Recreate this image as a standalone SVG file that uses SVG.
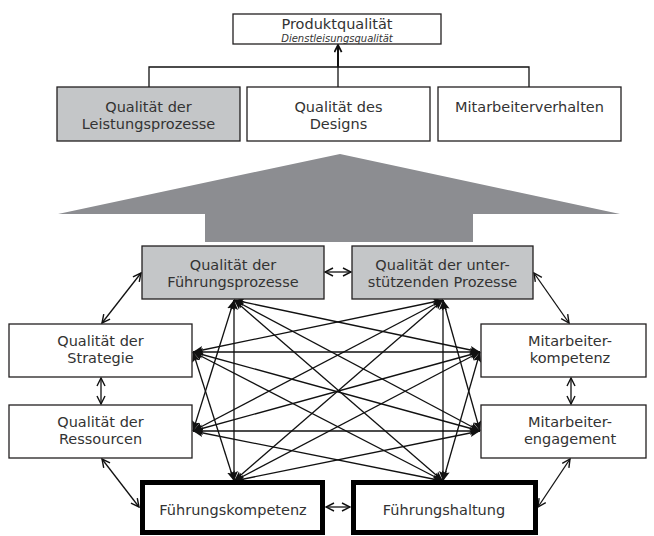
<svg xmlns="http://www.w3.org/2000/svg" width="654" height="536" viewBox="0 0 654 536">
<defs>
<style>
.box{fill:#fff;stroke:#231f20;stroke-width:1.3}
.gray{fill:#c4c6c8}
.thick{fill:#fff;stroke:#000;stroke-width:5}
.t{font-family:"DejaVu Sans",sans-serif;font-size:14.5px;fill:#333;text-anchor:middle}
.ti{font-family:"DejaVu Sans",sans-serif;font-style:italic;font-size:10px;fill:#333;text-anchor:middle}
.c{stroke:#111;stroke-width:1.3;fill:none}
.ring{marker-start:url(#ov);marker-end:url(#ov)}
.mesh{marker-start:url(#fv);marker-end:url(#fv)}
</style>
<marker id="ov" viewBox="0 0 10 10" refX="9" refY="5" markerWidth="10" markerHeight="10" markerUnits="userSpaceOnUse" orient="auto-start-reverse">
<path d="M1,1 L9,5 L1,9" fill="none" stroke="#111" stroke-width="1.4"/>
</marker>
<marker id="fv" viewBox="0 0 10 10" refX="10" refY="5" markerWidth="10" markerHeight="10" markerUnits="userSpaceOnUse" orient="auto-start-reverse">
<path d="M0,1 L10,5 L0,9 L2,5 z" fill="#111"/>
</marker>
<marker id="up" viewBox="0 0 10 10" refX="9" refY="5" markerWidth="9" markerHeight="9" markerUnits="userSpaceOnUse" orient="auto">
<path d="M1,1 L9,5 L1,9" fill="none" stroke="#111" stroke-width="2"/>
</marker>
</defs>
<rect width="654" height="536" fill="#fff"/>

<g id="bigarrow">
<polygon points="340,154 620,214 473,214 473,242 205,242 205,214 58,214" fill="#8c8d91"/>
</g>

<g id="connectors">
<path class="c" d="M149,87 V67 H529 V87"/>
<path d="M338,87 V67" class="c"/>
<path d="M338,67 V45" stroke="#111" stroke-width="2" fill="none" marker-end="url(#up)"/>
<line class="c ring" x1="325" y1="272" x2="351" y2="272"/>
<line class="c ring" x1="141" y1="273" x2="102" y2="323"/>
<line class="c ring" x1="101" y1="378" x2="101" y2="404"/>
<line class="c ring" x1="102" y1="459" x2="139" y2="507"/>
<line class="c ring" x1="326" y1="507" x2="350" y2="507"/>
<line class="c ring" x1="538" y1="507" x2="570" y2="459"/>
<line class="c ring" x1="571" y1="378" x2="571" y2="404"/>
<line class="c ring" x1="534" y1="273" x2="569" y2="323"/>
<line class="c mesh" x1="234" y1="300" x2="193" y2="431"/>
<line class="c mesh" x1="234" y1="300" x2="480" y2="352"/>
<line class="c mesh" x1="234" y1="300" x2="480" y2="431"/>
<line class="c mesh" x1="234" y1="300" x2="234" y2="481"/>
<line class="c mesh" x1="234" y1="300" x2="443" y2="481"/>
<line class="c mesh" x1="443" y1="300" x2="193" y2="352"/>
<line class="c mesh" x1="443" y1="300" x2="193" y2="431"/>
<line class="c mesh" x1="443" y1="300" x2="480" y2="431"/>
<line class="c mesh" x1="443" y1="300" x2="234" y2="481"/>
<line class="c mesh" x1="443" y1="300" x2="443" y2="481"/>
<line class="c mesh" x1="193" y1="352" x2="480" y2="352"/>
<line class="c mesh" x1="193" y1="352" x2="480" y2="431"/>
<line class="c mesh" x1="193" y1="352" x2="234" y2="481"/>
<line class="c mesh" x1="193" y1="352" x2="443" y2="481"/>
<line class="c mesh" x1="193" y1="431" x2="480" y2="352"/>
<line class="c mesh" x1="193" y1="431" x2="480" y2="431"/>
<line class="c mesh" x1="193" y1="431" x2="443" y2="481"/>
<line class="c mesh" x1="480" y1="352" x2="234" y2="481"/>
<line class="c mesh" x1="480" y1="352" x2="443" y2="481"/>
<line class="c mesh" x1="480" y1="431" x2="234" y2="481"/>
</g>

<g id="produktqualitaet">
<rect class="box" x="233" y="14" width="208" height="30"/>
<text class="t" x="337" y="28.5">Produktqualität</text>
<text class="ti" x="337" y="41.5">Dienstleisungsqualität</text>
</g>
<g id="leistungsprozesse">
<rect class="box gray" x="57" y="87" width="183" height="54"/>
<text class="t" x="148.5" y="111.5">Qualität der</text>
<text class="t" x="148.5" y="128.5">Leistungsprozesse</text>
</g>
<g id="designs">
<rect class="box" x="247" y="87" width="183" height="54"/>
<text class="t" x="338.5" y="111.5">Qualität des</text>
<text class="t" x="338.5" y="128.5">Designs</text>
</g>
<g id="mitarbeiterverhalten">
<rect class="box" x="438" y="87" width="183" height="54"/>
<text class="t" x="529.5" y="111.5">Mitarbeiterverhalten</text>
</g>
<g id="fuehrungsprozesse">
<rect class="box gray" x="142" y="246" width="182" height="53"/>
<text class="t" x="233" y="269.5">Qualität der</text>
<text class="t" x="233" y="286.5">Führungsprozesse</text>
</g>
<g id="unterstuetzende">
<rect class="box gray" x="352" y="246" width="181" height="53"/>
<text class="t" x="442.5" y="269.5">Qualität der unter-</text>
<text class="t" x="442.5" y="286.5">stützenden Prozesse</text>
</g>
<g id="strategie">
<rect class="box" x="9" y="324" width="183" height="53"/>
<text class="t" x="100.5" y="345.5">Qualität der</text>
<text class="t" x="100.5" y="362.5">Strategie</text>
</g>
<g id="ressourcen">
<rect class="box" x="9" y="405" width="183" height="53"/>
<text class="t" x="100.5" y="426.5">Qualität der</text>
<text class="t" x="100.5" y="443.5">Ressourcen</text>
</g>
<g id="kompetenz">
<rect class="box" x="481" y="324" width="165" height="53"/>
<text class="t" x="570" y="345.5">Mitarbeiter-</text>
<text class="t" x="570" y="362.5">kompetenz</text>
</g>
<g id="engagement">
<rect class="box" x="481" y="405" width="165" height="53"/>
<text class="t" x="570" y="426.5">Mitarbeiter-</text>
<text class="t" x="570" y="443.5">engagement</text>
</g>
<g id="fuehrungskompetenz">
<rect class="thick" x="142.5" y="482.5" width="180" height="50"/>
<text class="t" x="233" y="515">Führungskompetenz</text>
</g>
<g id="fuehrungshaltung">
<rect class="thick" x="353.5" y="482.5" width="182" height="50"/>
<text class="t" x="444" y="515">Führungshaltung</text>
</g>
</svg>
